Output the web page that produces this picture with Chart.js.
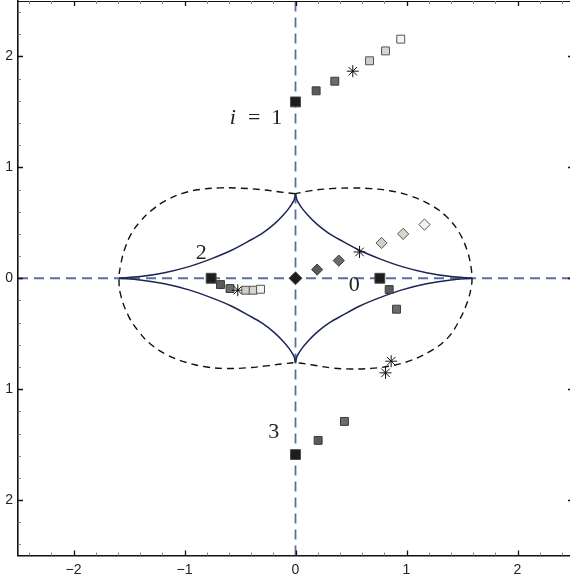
<!DOCTYPE html>
<html>
<head>
<meta charset="utf-8">
<script src="https://cdn.jsdelivr.net/npm/chart.js@4.4.1/dist/chart.umd.min.js"></script>
<style>
  html, body { margin: 0; padding: 0; overflow: hidden; background: #fff; }
  canvas { display: block; }
</style>
</head>
<body>
<canvas id="c" width="573" height="583"></canvas>
<script>
// ---- axes ----
const xRange = [-2.5, 2.5];
const yRange = [-2.5, 2.5];
const xTickValues = [-2, -1, 0, 1, 2];
const xTickLabels = ['\u22122', '\u22121', '0', '1', '2'];
const yTickValues = [2, 1, 0, -1, -2];
const yTickLabels = ['2', '1', '0', '1', '2'];

// ---- inner caustic, four cusp-to-cusp arcs ----
const arcUpperRightX = [0, 0.01, 0.03, 0.06, 0.11, 0.19, 0.30, 0.43, 0.58, 0.76, 0.96, 1.18, 1.40, 1.59];
const arcUpperRightY = [0.76, 0.715, 0.675, 0.63, 0.57, 0.49, 0.405, 0.33, 0.25, 0.175, 0.105, 0.05, 0.015, 0];
const arcUpperLeftX = [-1.59, -1.40, -1.18, -0.96, -0.76, -0.58, -0.43, -0.30, -0.19, -0.11, -0.06, -0.03, -0.01, 0];
const arcUpperLeftY = [0, 0.015, 0.05, 0.105, 0.175, 0.25, 0.33, 0.405, 0.49, 0.57, 0.63, 0.675, 0.715, 0.76];
const arcLowerRightX = [0, 0.01, 0.03, 0.06, 0.11, 0.19, 0.30, 0.43, 0.58, 0.76, 0.96, 1.18, 1.40, 1.59];
const arcLowerRightY = [-0.76, -0.715, -0.675, -0.63, -0.57, -0.49, -0.405, -0.33, -0.25, -0.175, -0.105, -0.05, -0.015, 0];
const arcLowerLeftX = [-1.59, -1.40, -1.18, -0.96, -0.76, -0.58, -0.43, -0.30, -0.19, -0.11, -0.06, -0.03, -0.01, 0];
const arcLowerLeftY = [0, -0.015, -0.05, -0.105, -0.175, -0.25, -0.33, -0.405, -0.49, -0.57, -0.63, -0.675, -0.715, -0.76];

// ---- outer boundary (dashed), traced once around ----
const outerX = [0, -0.14, -0.32, -0.50, -0.68, -0.86, -1.02, -1.17, -1.30, -1.40, -1.48, -1.54, -1.575, -1.59,
  -1.575, -1.50, -1.41, -1.31, -1.16, -0.98, -0.80, -0.62, -0.44, -0.26, -0.11, 0,
  0.14, 0.32, 0.50, 0.68, 0.86, 1.04, 1.22, 1.37, 1.47, 1.55, 1.585, 1.59,
  1.58, 1.545, 1.47, 1.36, 1.21, 1.03, 0.86, 0.68, 0.50, 0.32, 0.14, 0];
const outerY = [0.762, 0.778, 0.80, 0.812, 0.815, 0.80, 0.765, 0.70, 0.61, 0.51, 0.40, 0.26, 0.12, 0,
  -0.15, -0.35, -0.483, -0.59, -0.69, -0.76, -0.80, -0.814, -0.808, -0.79, -0.772, -0.762,
  -0.78, -0.808, -0.818, -0.813, -0.79, -0.74, -0.655, -0.54, -0.39, -0.21, -0.07, 0,
  0.11, 0.255, 0.42, 0.556, 0.666, 0.744, 0.787, 0.808, 0.814, 0.808, 0.79, 0.762];

// ---- trajectories ----
const track1X = [0, 0.186, 0.354, 0.516, 0.667, 0.811, 0.948];
const track1Y = [1.59, 1.69, 1.777, 1.867, 1.961, 2.05, 2.156];
const track2X = [-0.76, -0.676, -0.59, -0.52, -0.448, -0.381, -0.315];
const track2Y = [0, -0.057, -0.093, -0.108, -0.108, -0.108, -0.099];
const track0X = [0, 0.195, 0.39, 0.577, 0.775, 0.97, 1.162];
const track0Y = [0, 0.078, 0.159, 0.237, 0.318, 0.40, 0.484];
const track0bX = [0.76, 0.844, 0.91];
const track0bY = [0, -0.102, -0.279];
const track3X = [0, 0.204, 0.441];
const track3Y = [-1.59, -1.462, -1.291];
const extraStarsX = [0.862, 0.811];
const extraStarsY = [-0.748, -0.853];

// ---- annotations ----
const curveLabels = [
  { text: '1', prefix: 'i = ', x: -0.36, y: 1.44 },
  { text: '2', x: -0.85, y: 0.225 },
  { text: '0', x: 0.53, y: -0.063 },
  { text: '3', x: -0.195, y: -1.387 }
];

// ---- styling ----
const stepFill = ['#1d1d1d', '#5a5a5a', '#6c6c6c', '#111111', '#cecece', '#dad4ca', '#f3f3f3'];
const stepStyle = ['rect', 'rect', 'rect', 'star', 'rect', 'rect', 'rect'];
const stepBorder = ['#4a4a4a', '#3c3c3c', '#3c3c3c', '#111111', '#555555', '#555555', '#555555'];
const axisBlue = '#5a6ea3';
const navy = '#1b2654';

const zip = (xs, ys) => xs.map((x, i) => ({ x, y: ys[i] }));

function markerSet(xs, ys, shape, bigR, smallR) {
  const n = xs.length;
  const styles = stepStyle.slice(0, n).map(s => s === 'rect' ? shape : s);
  return {
    data: zip(xs, ys),
    showLine: false,
    pointStyle: styles,
    pointRadius: styles.map((s, i) => s === 'star' ? 6 : (i === 0 ? bigR : smallR)),
    pointBackgroundColor: stepFill.slice(0, n),
    pointBorderColor: stepBorder.slice(0, n),
    pointBorderWidth: 1,
    order: 0
  };
}

function arc(xs, ys) {
  return {
    data: zip(xs, ys),
    showLine: true,
    borderColor: navy,
    borderWidth: 1.5,
    pointRadius: 0,
    cubicInterpolationMode: 'monotone',
    fill: false,
    order: 1
  };
}

const datasets = [
  markerSet(track1X, track1Y, 'rect', 7, 5.6),
  markerSet(track2X, track2Y, 'rect', 7, 5.6),
  markerSet(track0X, track0Y, 'rectRot', 6.5, 5.6),
  markerSet(track0bX, track0bY, 'rect', 7, 5.6),
  markerSet(track3X, track3Y, 'rect', 7, 5.6),
  {
    data: zip(extraStarsX, extraStarsY),
    showLine: false,
    pointStyle: 'star',
    pointRadius: 6,
    pointBorderColor: '#111',
    pointBorderWidth: 1,
    order: 0
  },
  arc(arcUpperRightX, arcUpperRightY),
  arc(arcUpperLeftX, arcUpperLeftY),
  arc(arcLowerRightX, arcLowerRightY),
  arc(arcLowerLeftX, arcLowerLeftY),
  {
    data: zip(outerX, outerY),
    showLine: true,
    borderColor: '#111',
    borderWidth: 1.4,
    borderDash: [7, 5],
    pointRadius: 0,
    tension: 0.4,
    fill: false,
    order: 1
  },
  {
    data: zip(xRange, [0, 0]),
    showLine: true,
    borderColor: axisBlue,
    borderWidth: 1.8,
    borderDash: [10, 6],
    pointRadius: 0,
    order: 2
  },
  {
    data: zip([0, 0], yRange),
    showLine: true,
    borderColor: axisBlue,
    borderWidth: 1.8,
    borderDash: [10, 6],
    pointRadius: 0,
    order: 2
  }
];

// inward ticks on all four sides plus the top and right edges of the frame
const frameTicks = {
  id: 'frameTicks',
  afterDraw(chart) {
    const { ctx, chartArea: a, scales: { x, y } } = chart;
    ctx.save();
    ctx.strokeStyle = '#111';
    ctx.lineWidth = 1.2;
    ctx.beginPath();
    ctx.moveTo(a.left, a.top + 0.5); ctx.lineTo(a.right, a.top + 0.5);
    ctx.moveTo(a.right - 0.5, a.top); ctx.lineTo(a.right - 0.5, a.bottom);
    ctx.stroke();
    for (let k = -12; k <= 12; k++) {
      const v = k / 5;
      const major = k % 5 === 0;
      const len = major ? 5 : 3;
      ctx.strokeStyle = major ? '#111' : '#888';
      ctx.lineWidth = major ? 1.3 : 1;
      const px = Math.round(x.getPixelForValue(v)) + 0.5;
      const py = Math.round(y.getPixelForValue(v)) + 0.5;
      ctx.beginPath();
      ctx.moveTo(px, a.bottom); ctx.lineTo(px, a.bottom - len);
      ctx.moveTo(px, a.top); ctx.lineTo(px, a.top + len);
      ctx.moveTo(a.left, py); ctx.lineTo(a.left + len, py);
      ctx.moveTo(a.right, py); ctx.lineTo(a.right - len, py);
      ctx.stroke();
    }
    ctx.restore();
  }
};

// curve numbers set in a serif face
const curveNumbers = {
  id: 'curveNumbers',
  afterDatasetsDraw(chart) {
    const { ctx, scales: { x, y } } = chart;
    ctx.save();
    ctx.fillStyle = '#222';
    ctx.textBaseline = 'middle';
    const upright = '22px "Liberation Serif"';
    const slanted = 'italic 22px "Liberation Serif"';
    curveLabels.forEach(l => {
      const px = x.getPixelForValue(l.x);
      const py = y.getPixelForValue(l.y);
      if (l.prefix) {
        // math-style spacing around the equals sign
        const rest = '\u2002=\u2002' + l.text;
        ctx.font = slanted;
        const wi = ctx.measureText('i').width;
        ctx.font = upright;
        const wr = ctx.measureText(rest).width;
        const start = px - (wi + wr) / 2;
        ctx.textAlign = 'left';
        ctx.font = slanted;
        ctx.fillText('i', start, py);
        ctx.font = upright;
        ctx.fillText(rest, start + wi + 1, py);
      } else {
        ctx.textAlign = 'center';
        ctx.font = upright;
        ctx.fillText(l.text, px, py);
      }
    });
    ctx.restore();
  }
};

// fixed axis bands so the plot frame spans the full canvas
function pinX(s) {
  s.height = 27.5;
  s.paddingLeft = 0; s.paddingRight = 0;
}
function pinY(s) {
  s.width = 18;
  s.paddingTop = 0; s.paddingBottom = 0;
}

new Chart(document.getElementById('c'), {
  type: 'scatter',
  data: { datasets },
  options: {
    responsive: false,
    animation: false,
    layout: { autoPadding: false, padding: { top: 1, right: 0, left: 0, bottom: 0 } },
    plugins: { legend: { display: false }, tooltip: { enabled: false } },
    scales: {
      x: {
        type: 'linear',
        min: xRange[0], max: xRange[1],
        afterBuildTicks: s => { s.ticks = xTickValues.map(v => ({ value: v })); },
        afterFit: pinX,
        ticks: {
          padding: 6,
          color: '#222',
          font: { family: '"Liberation Sans", Arial, sans-serif', size: 14 },
          callback: v => xTickLabels[xTickValues.indexOf(v)]
        },
        grid: { display: true, drawOnChartArea: false, drawTicks: false },
        border: { display: true, color: '#111', width: 1.6 }
      },
      y: {
        type: 'linear',
        min: yRange[0], max: yRange[1],
        afterBuildTicks: s => { s.ticks = yTickValues.map(v => ({ value: v })); },
        afterFit: pinY,
        ticks: {
          padding: 5,
          color: '#222',
          font: { family: '"Liberation Sans", Arial, sans-serif', size: 14 },
          callback: v => yTickLabels[yTickValues.indexOf(v)]
        },
        grid: { display: true, drawOnChartArea: false, drawTicks: false },
        border: { display: true, color: '#111', width: 1.6 }
      }
    }
  },
  plugins: [frameTicks, curveNumbers]
});
</script>
</body>
</html>
